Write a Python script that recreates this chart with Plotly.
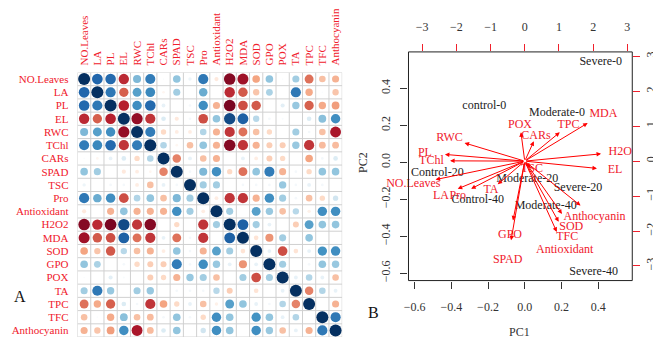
import numpy as np
import plotly.graph_objects as go

# ---------------- data: correlation matrix (panel A) ----------------
variables = ["NO.Leaves", "LA", "PL", "EL", "RWC", "TChl", "CARs", "SPAD", "TSC", "Pro",
             "Antioxidant", "H2O2", "MDA", "SOD", "GPO", "POX", "TA", "TPC", "TFC", "Anthocyanin"]

# upper-triangle correlations, row by row (values right of the diagonal)
r_NO_Leaves = [0.80, 0.78, -0.75, 0.45, 0.70, 0.02, 0.40, 0.08, 0.72, -0.12, -0.92, -0.85, -0.40, 0.40, 0.02, 0.35, -0.55, -0.30, -0.35]
r_LA = [0.72, -0.60, 0.55, 0.65, -0.05, 0.35, 0.00, 0.50, 0.00, -0.75, -0.62, -0.28, 0.32, 0.00, 0.72, -0.38, 0.02, -0.28]
r_PL = [-0.78, 0.62, 0.78, 0.10, 0.00, 0.05, 0.62, -0.35, -0.95, -0.65, -0.62, 0.00, 0.12, 0.38, -0.60, -0.38, -0.42]
r_EL = [-0.88, -0.72, 0.15, -0.12, 0.05, -0.65, 0.40, 0.90, 0.82, 0.28, 0.05, 0.03, 0.00, 0.15, 0.42, 0.62]
r_RWC = [0.70, -0.20, -0.10, -0.10, 0.30, -0.35, -0.72, -0.55, -0.30, -0.20, 0.00, 0.35, 0.05, -0.30, -0.82]
r_TChl = [0.30, -0.05, -0.30, 0.40, -0.35, -0.92, -0.72, -0.35, -0.25, -0.25, 0.38, -0.72, -0.32, -0.32]
r_CARs = [-0.50, 0.10, -0.30, -0.35, 0.00, 0.10, -0.10, -0.25, -0.20, 0.00, -0.40, 0.05, 0.15]
r_SPAD = [0.05, 0.45, 0.62, -0.20, -0.55, 0.40, 0.70, -0.35, 0.05, -0.20, 0.40, 0.40]
r_TSC = [0.35, 0.35, 0.00, 0.05, 0.05, 0.05, 0.38, 0.05, 0.10, 0.05, 0.00]
r_Pro = [-0.10, -0.72, -0.72, -0.35, 0.62, 0.35, 0.05, -0.30, -0.20, 0.20]
r_Antioxidant = [0.35, 0.00, 0.55, 0.38, -0.30, 0.28, -0.08, 0.62, 0.62]
r_H2O2 = [0.82, 0.35, 0.10, 0.00, -0.25, 0.55, 0.40, 0.40]
r_MDA = [-0.15, -0.45, 0.35, 0.00, 0.40, 0.00, 0.00]
r_SOD = [0.10, -0.65, -0.15, 0.10, 0.60, 0.62]
r_GPO = [0.35, 0.00, 0.05, 0.40, 0.38]
r_POX = [0.10, 0.30, 0.10, -0.30]
r_TA = [-0.50, 0.30, 0.10]
r_TPC = [0.00, -0.35]
r_TFC = [0.72]

upper_rows = [r_NO_Leaves, r_LA, r_PL, r_EL, r_RWC, r_TChl, r_CARs, r_SPAD, r_TSC, r_Pro,
              r_Antioxidant, r_H2O2, r_MDA, r_SOD, r_GPO, r_POX, r_TA, r_TPC, r_TFC]

# ---------------- data: PCA biplot (panel B) ----------------
samples = ["Severe-0", "control-0", "Moderate-0", "Control-20", "Moderate-20",
           "Severe-20", "Control-40", "Moderate-40", "Severe-40"]
score_pc1 = [0.414, -0.220, 0.176, -0.476, 0.014, 0.290, -0.256, 0.114, 0.375]
score_pc2 = [0.543, 0.302, 0.264, -0.061, -0.092, -0.141, -0.204, -0.238, -0.592]

load_names = ["MDA", "TPC", "POX", "CARs", "RWC", "PL", "TChl", "H2O", "EL", "NO.Leaves",
              "LA", "Pro", "TA", "TSC", "Anthocyanin", "SOD", "TFC", "Antioxidant", "GPO", "SPAD"]
load_pc1 = [2.30, 1.28, -0.14, 0.33, -2.20, -2.92, -2.73, 2.79, 2.64, -3.26,
            -2.45, -1.96, -0.99, 0.21, 2.04, 1.36, 1.24, 1.17, -0.43, -0.50]
load_pc2 = [1.36, 1.03, 1.03, 0.71, 0.65, 0.24, 0.01, 0.26, -0.26, -0.66,
            -0.99, -0.99, -0.83, -0.23, -1.59, -1.89, -2.17, -2.53, -2.12, -2.83]

pc1_ticks = [-0.6, -0.4, -0.2, 0.0, 0.2, 0.4]
pc2_ticks = [-0.6, -0.4, -0.2, 0.0, 0.2, 0.4]
load_ticks = [-3, -2, -1, 0, 1, 2, 3]

# ---------------- build ----------------
W, H = 661, 339
RED = "#F0202C"
SERIF = "Liberation Serif"

n = len(variables)
C = np.eye(n)
for i, row in enumerate(upper_rows):
    for k, v in enumerate(row):
        j = i + 1 + k
        C[i, j] = v
        C[j, i] = v

pal = ["#67001F", "#B2182B", "#D6604D", "#F4A582", "#FDDBC7", "#FFFFFF",
       "#D1E5F0", "#92C5DE", "#4393C3", "#2166AC", "#053061"]
pal_rgb = [tuple(int(p[k:k + 2], 16) for k in (1, 3, 5)) for p in pal]


def rcolor(v):
    t = (v + 1) / 2 * (len(pal) - 1)
    i0 = int(np.floor(t))
    i0 = min(max(i0, 0), len(pal) - 2)
    f = t - i0
    a, b = pal_rgb[i0], pal_rgb[i0 + 1]
    c = [round(a[k] + (b[k] - a[k]) * f) for k in range(3)]
    return f"rgb({c[0]},{c[1]},{c[2]})"


gx0, gx1 = 65.0, 331.7
gy0, gy1 = 64.0, 331.0
cell_px = (gx1 - gx0) / n

xs, ys, sizes, cols = [], [], [], []
for i in range(n):
    for j in range(n):
        v = C[i, j]
        xs.append(j)
        ys.append(i)
        sizes.append(max(0.9 * np.sqrt(abs(v)) * cell_px, 0.01))
        cols.append(rcolor(v))

fig = go.Figure()
fig.add_trace(go.Scatter(
    x=xs, y=ys, mode="markers", xaxis="x", yaxis="y",
    marker=dict(size=sizes, color=cols, opacity=1, line=dict(width=0)),
    hoverinfo="skip", showlegend=False))

# biplot scores
fig.add_trace(go.Scatter(
    x=score_pc1, y=score_pc2, mode="text", text=samples, xaxis="x2", yaxis="y2",
    textfont=dict(family=SERIF, size=12, color="#222222"), textposition="middle center",
    cliponaxis=False, showlegend=False, hoverinfo="skip"))
# variable labels
fig.add_trace(go.Scatter(
    x=load_pc1, y=load_pc2, mode="text", text=load_names, xaxis="x3", yaxis="y3",
    textfont=dict(family=SERIF, size=12, color=RED), textposition="middle center",
    cliponaxis=False, showlegend=False, hoverinfo="skip"))

shapes = []
for k in range(n + 1):
    shapes.append(dict(type="line", xref="x", yref="y", x0=k - 0.5, x1=k - 0.5, y0=-0.5, y1=n - 0.5,
                       line=dict(color="#D0D0D0", width=1), layer="below"))
    shapes.append(dict(type="line", xref="x", yref="y", y0=k - 0.5, y1=k - 0.5, x0=-0.5, x1=n - 0.5,
                       line=dict(color="#D0D0D0", width=1), layer="below"))
shapes.append(dict(type="rect", xref="x2 domain", yref="y2 domain", x0=0, x1=1, y0=0, y1=1,
                   line=dict(color="#222222", width=1)))

annotations = []
for nm, lx, ly in zip(load_names, load_pc1, load_pc2):
    annotations.append(dict(x=0.8 * lx, y=0.8 * ly, ax=0, ay=0, xref="x3", yref="y3",
                            axref="x3", ayref="y3", text="", showarrow=True,
                            arrowhead=2, arrowsize=0.9, arrowwidth=1, arrowcolor="red", standoff=0))

annotations += [
    dict(text="A", x=7 / W, y=1 - 290 / H, xref="paper", yref="paper", showarrow=False,
         font=dict(family=SERIF, size=16, color="#111111"), xanchor="center", yanchor="middle"),
    dict(text="B", x=363 / W, y=1 - 306 / H, xref="paper", yref="paper", showarrow=False,
         font=dict(family=SERIF, size=16, color="#111111"), xanchor="center", yanchor="middle"),
    dict(text="PC1", x=510 / W, y=1 - 326 / H, xref="paper", yref="paper", showarrow=False,
         font=dict(family=SERIF, size=12, color="#333333"), xanchor="center", yanchor="middle"),
    dict(text="PC2", x=352 / W, y=1 - 155 / H, xref="paper", yref="paper", showarrow=False,
         textangle=-90, font=dict(family=SERIF, size=12, color="#333333"),
         xanchor="center", yanchor="middle"),
]


def fmt(v):
    s = f"{abs(v):.1f}"
    return ("\u2212" + s) if v < 0 else s


bx0, bx1, by0, by1 = 398.5, 624.0, 43.3, 274.0
tickfont = dict(family=SERIF, size=12, color="#333333")

fig.update_layout(
    width=W, height=H, margin=dict(l=0, r=0, t=0, b=0),
    paper_bgcolor="white", plot_bgcolor="white",
    shapes=shapes, annotations=annotations, showlegend=False,
    xaxis=dict(domain=[gx0 / W, gx1 / W], range=[-0.5, n - 0.5], side="top", anchor="y",
               tickmode="array", tickvals=list(range(n)), ticktext=variables, tickangle=-90,
               tickfont=dict(family=SERIF, size=11, color=RED), ticks="", ticklabelstandoff=6,
               showgrid=False, zeroline=False, showline=False, fixedrange=True),
    yaxis=dict(domain=[1 - gy1 / H, 1 - gy0 / H], range=[n - 0.5, -0.5], anchor="x",
               tickmode="array", tickvals=list(range(n)), ticktext=variables,
               tickfont=dict(family=SERIF, size=11, color=RED), ticks="", ticklabelstandoff=8,
               showgrid=False, zeroline=False, showline=False, fixedrange=True),
    xaxis2=dict(domain=[bx0 / W, bx1 / W], range=[-0.633, 0.5856], anchor="y2",
                tickmode="array", tickvals=pc1_ticks, ticktext=[fmt(v) for v in pc1_ticks],
                ticks="outside", ticklen=7, tickcolor="#333333", tickfont=tickfont,
                ticklabelstandoff=8, showgrid=False, zeroline=False, showline=False),
    yaxis2=dict(domain=[1 - by1 / H, 1 - by0 / H], range=[-0.640, 0.5965], anchor="x2",
                tickmode="array", tickvals=pc2_ticks, ticktext=[fmt(v) for v in pc2_ticks],
                tickangle=-90, ticks="outside", ticklen=7, tickcolor="#333333", tickfont=tickfont,
                ticklabelstandoff=6, showgrid=False, zeroline=False, showline=False),
    xaxis3=dict(overlaying="x2", side="top", anchor="y2", range=[-3.401, 3.145],
                tickmode="array", tickvals=load_ticks,
                ticktext=[("\u2212" + str(abs(v))) if v < 0 else str(v) for v in load_ticks],
                ticks="outside", ticklen=7, tickcolor=RED, tickfont=tickfont,
                ticklabelstandoff=8, showgrid=False, zeroline=False, showline=False),
    yaxis3=dict(overlaying="y2", side="right", anchor="x2", range=[-3.417, 3.124],
                tickmode="array", tickvals=load_ticks,
                ticktext=[("\u2212" + str(abs(v))) if v < 0 else str(v) for v in load_ticks],
                tickangle=-90, ticks="outside", ticklen=7, tickcolor=RED, tickfont=tickfont,
                ticklabelstandoff=0, showgrid=False, zeroline=False, showline=False),
)

fig.write_html("out.html")
